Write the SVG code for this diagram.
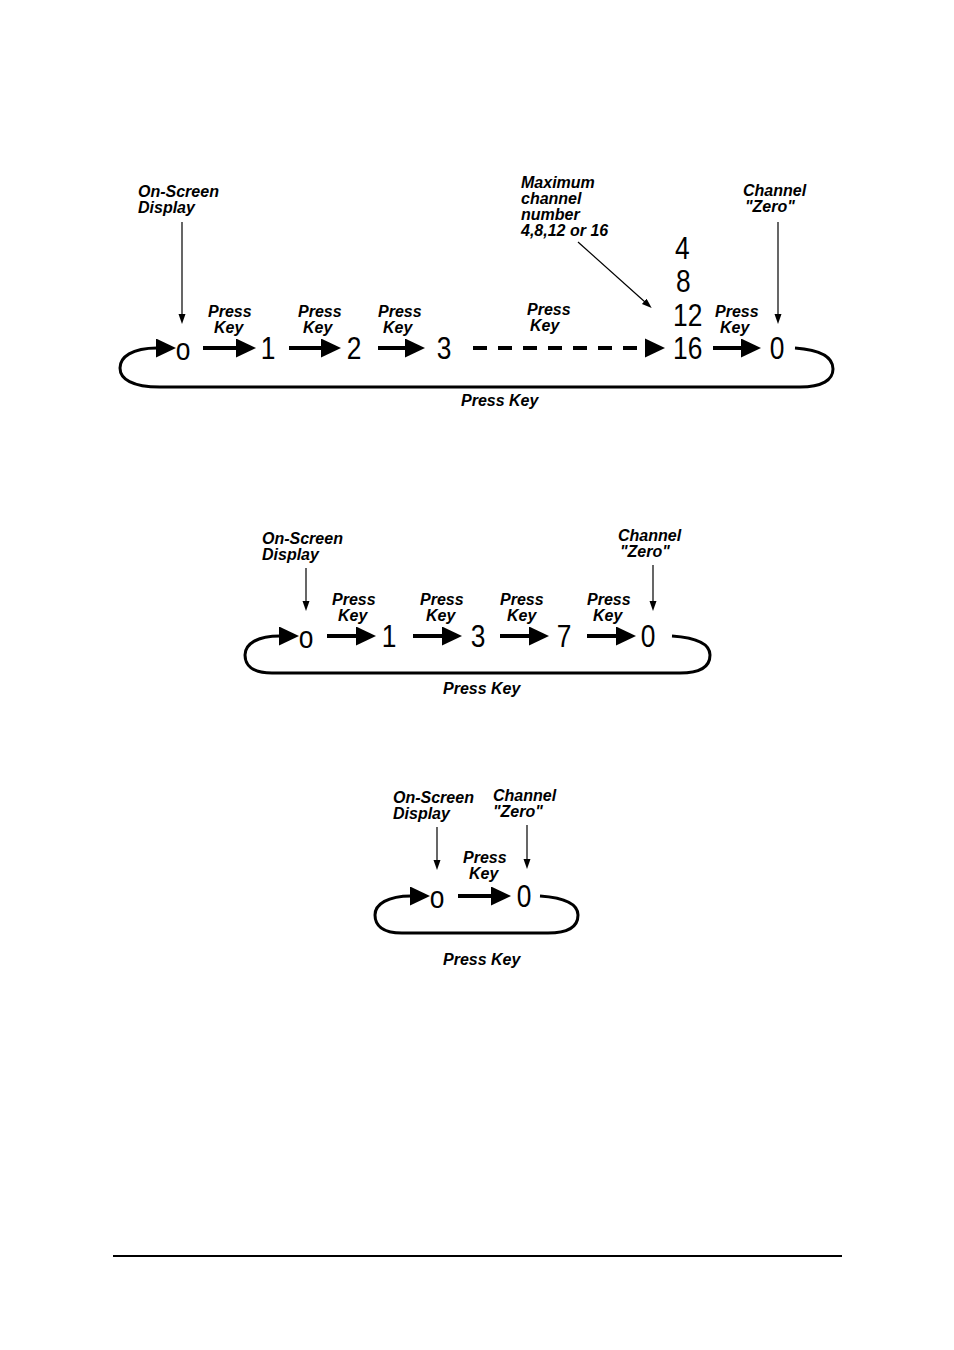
<svg xmlns="http://www.w3.org/2000/svg" width="954" height="1350" viewBox="0 0 954 1350">
<style>
.lbl{font-family:"Liberation Sans",Arial,sans-serif;font-size:16px;font-weight:bold;font-style:italic;fill:#000}
.num{font-family:"Liberation Sans",Arial,sans-serif;font-size:31px;fill:#000}
.thick{stroke:#000;stroke-width:4;fill:none}
.loop{stroke:#000;stroke-width:3;fill:none}
.thin{stroke:#000;stroke-width:1.2;fill:none}
</style>
<defs>
<marker id="big" markerUnits="userSpaceOnUse" markerWidth="22" markerHeight="20" refX="1" refY="9.5" orient="auto">
<path d="M0,0 L20,9.5 L0,19 z" fill="#000"/>
</marker>
<marker id="small" markerUnits="userSpaceOnUse" markerWidth="11" markerHeight="8" refX="1" refY="3.5" orient="auto">
<path d="M0,0 L10,3.5 L0,7 z" fill="#000"/>
</marker>
</defs>
<rect width="954" height="1350" fill="#fff"/>

<g id="connectors">
<!-- Diagram 1 -->
<path class="loop" marker-end="url(#big)" d="M795,348 C822,350 833,358 833,369 C833,380 822,387 800,387 L160,387 C132,387 120,379 120,368 C120,357 132,348 157,348"/>
<line class="thick" marker-end="url(#big)" x1="203" y1="348" x2="237" y2="348"/>
<line class="thick" marker-end="url(#big)" x1="289" y1="348" x2="322" y2="348"/>
<line class="thick" marker-end="url(#big)" x1="378" y1="348" x2="406" y2="348"/>
<line class="thick" stroke-dasharray="14 11" x1="473" y1="348" x2="637" y2="348"/>
<path d="M645,338.5 L665,348 L645,357.5 z" fill="#000"/>
<line class="thick" marker-end="url(#big)" x1="713" y1="348" x2="742" y2="348"/>
<line class="thin" marker-end="url(#small)" x1="182" y1="222" x2="182" y2="315"/>
<line class="thin" marker-end="url(#small)" x1="778" y1="222" x2="778" y2="315"/>
<line class="thin" marker-end="url(#small)" x1="578" y1="242" x2="645" y2="302"/>
<!-- Diagram 2 -->
<path class="loop" marker-end="url(#big)" d="M672,636 C700,638 710,645 710,655 C710,667 700,673 680,673 L272,673 C252,673 245,665 245,655 C245,644 257,636 280,636"/>
<line class="thick" marker-end="url(#big)" x1="327" y1="636" x2="357" y2="636"/>
<line class="thick" marker-end="url(#big)" x1="413" y1="636" x2="443" y2="636"/>
<line class="thick" marker-end="url(#big)" x1="500" y1="636" x2="530" y2="636"/>
<line class="thick" marker-end="url(#big)" x1="587" y1="636" x2="617" y2="636"/>
<line class="thin" marker-end="url(#small)" x1="306" y1="568" x2="306" y2="602"/>
<line class="thin" marker-end="url(#small)" x1="653" y1="565" x2="653" y2="602"/>
<!-- Diagram 3 -->
<path class="loop" marker-end="url(#big)" d="M540,896 C567,898 578,905 578,915 C578,927 567,933 548,933 L402,933 C382,933 375,925 375,915 C375,904 388,896 411,896"/>
<line class="thick" marker-end="url(#big)" x1="458" y1="896" x2="492" y2="896"/>
<line class="thin" marker-end="url(#small)" x1="437" y1="827" x2="437" y2="861"/>
<line class="thin" marker-end="url(#small)" x1="527" y1="825" x2="527" y2="860"/>
</g>

<!-- Diagram 1 nodes -->
<g id="d1-osd-label">
<text class="lbl" x="138" y="197">On-Screen</text>
<text class="lbl" x="138" y="213">Display</text>
</g>
<g id="d1-max-label">
<text class="lbl" x="521" y="188">Maximum</text>
<text class="lbl" x="521" y="204">channel</text>
<text class="lbl" x="521" y="220">number</text>
<text class="lbl" x="521" y="236">4,8,12 or 16</text>
</g>
<g id="d1-zero-label">
<text class="lbl" x="743" y="196">Channel</text>
<text class="lbl" x="745" y="212">"Zero"</text>
</g>
<g id="d1-n0"><text class="num" transform="translate(183,360) scale(0.85,1)" text-anchor="middle">o</text></g>
<g id="d1-n1"><text class="num" transform="translate(268,359) scale(0.85,1)" text-anchor="middle">1</text></g>
<g id="d1-n2"><text class="num" transform="translate(354,359) scale(0.85,1)" text-anchor="middle">2</text></g>
<g id="d1-n3"><text class="num" transform="translate(444,359) scale(0.85,1)" text-anchor="middle">3</text></g>
<g id="d1-max">
<text class="num" transform="translate(675,259) scale(0.85,1)">4</text>
<text class="num" transform="translate(676,292) scale(0.85,1)">8</text>
<text class="num" transform="translate(673,326) scale(0.85,1)">12</text>
<text class="num" transform="translate(673,359) scale(0.85,1)">16</text>
</g>
<g id="d1-zero"><text class="num" transform="translate(777,359) scale(0.85,1)" text-anchor="middle">0</text></g>
<g id="d1-keys">
<text class="lbl" x="208" y="317">Press</text><text class="lbl" x="214" y="333">Key</text>
<text class="lbl" x="298" y="317">Press</text><text class="lbl" x="303" y="333">Key</text>
<text class="lbl" x="378" y="317">Press</text><text class="lbl" x="383" y="333">Key</text>
<text class="lbl" x="527" y="315">Press</text><text class="lbl" x="530" y="331">Key</text>
<text class="lbl" x="715" y="317">Press</text><text class="lbl" x="720" y="333">Key</text>
<text class="lbl" x="461" y="406">Press Key</text>
</g>

<!-- Diagram 2 nodes -->
<g id="d2-osd-label">
<text class="lbl" x="262" y="544">On-Screen</text>
<text class="lbl" x="262" y="560">Display</text>
</g>
<g id="d2-zero-label">
<text class="lbl" x="618" y="541">Channel</text>
<text class="lbl" x="620" y="557">"Zero"</text>
</g>
<g id="d2-n0"><text class="num" transform="translate(306,648) scale(0.85,1)" text-anchor="middle">o</text></g>
<g id="d2-n1"><text class="num" transform="translate(389,647) scale(0.85,1)" text-anchor="middle">1</text></g>
<g id="d2-n3"><text class="num" transform="translate(478,647) scale(0.85,1)" text-anchor="middle">3</text></g>
<g id="d2-n7"><text class="num" transform="translate(564,647) scale(0.85,1)" text-anchor="middle">7</text></g>
<g id="d2-zero"><text class="num" transform="translate(648,647) scale(0.85,1)" text-anchor="middle">0</text></g>
<g id="d2-keys">
<text class="lbl" x="332" y="605">Press</text><text class="lbl" x="338" y="621">Key</text>
<text class="lbl" x="420" y="605">Press</text><text class="lbl" x="426" y="621">Key</text>
<text class="lbl" x="500" y="605">Press</text><text class="lbl" x="507" y="621">Key</text>
<text class="lbl" x="587" y="605">Press</text><text class="lbl" x="593" y="621">Key</text>
<text class="lbl" x="443" y="694">Press Key</text>
</g>

<!-- Diagram 3 nodes -->
<g id="d3-osd-label">
<text class="lbl" x="393" y="803">On-Screen</text>
<text class="lbl" x="393" y="819">Display</text>
</g>
<g id="d3-zero-label">
<text class="lbl" x="493" y="801">Channel</text>
<text class="lbl" x="493" y="817">"Zero"</text>
</g>
<g id="d3-n0"><text class="num" transform="translate(437,908) scale(0.85,1)" text-anchor="middle">o</text></g>
<g id="d3-zero"><text class="num" transform="translate(524,907) scale(0.85,1)" text-anchor="middle">0</text></g>
<g id="d3-keys">
<text class="lbl" x="463" y="863">Press</text><text class="lbl" x="469" y="879">Key</text>
<text class="lbl" x="443" y="965">Press Key</text>
</g>

<line id="rule" x1="113" y1="1256" x2="842" y2="1256" stroke="#000" stroke-width="2"/>
</svg>
